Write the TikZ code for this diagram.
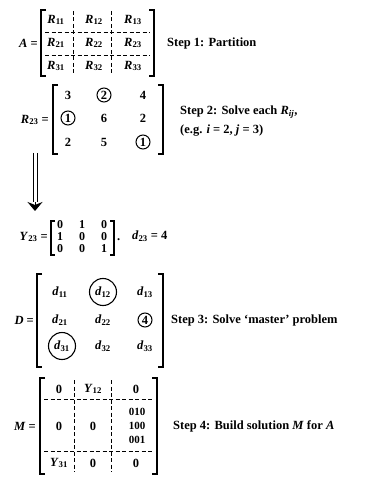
\documentclass[tikz,border=0pt]{standalone}
\usepackage{fontspec}
\setmainfont{Liberation Serif}
\usetikzlibrary{arrows.meta}
\newcommand\vb[2]{\textit{#1}\textsubscript{#2}}
\begin{document}
\begin{tikzpicture}[x=1pt,y=-1pt,
  every node/.style={inner sep=0pt,font=\fontsize{12.5}{15}\selectfont\bfseries},
  lbl/.style={anchor=west},
  brk/.style={line width=1.5pt},
  dsh/.style={line width=0.9pt,dash pattern=on 4pt off 2.5pt},
  circ/.style={circle,draw,line width=1pt,minimum size=14pt},
  bigcirc/.style={circle,draw,line width=1.1pt,minimum size=27pt},
  ysm/.style={font=\fontsize{12}{14}\selectfont\bfseries}]
\useasboundingbox (0,0) rectangle (380,478);
% ---------- A
\node[anchor=east] (Aeq) at (38,43) {\textit{A} =};
\draw[brk] (46,10) -- (41,10) -- (41,76) -- (46,76);
\draw[brk] (149,10) -- (154,10) -- (154,76) -- (149,76);
\node (r11) at (56,20) {\vb{R}{11}};
\node (r12) at (94,20) {\vb{R}{12}};
\node (r13) at (133,20) {\vb{R}{13}};
\node (r21) at (56,43) {\vb{R}{21}};
\node (r22) at (94,43) {\vb{R}{22}};
\node (r23) at (133,43) {\vb{R}{23}};
\node (r31) at (56,66) {\vb{R}{31}};
\node (r32) at (94,66) {\vb{R}{32}};
\node (r33) at (133,66) {\vb{R}{33}};
\draw[dsh] (45,32) -- (150,32);
\draw[dsh] (45,55) -- (150,55);
\draw[dsh] (73,11) -- (73,75);
\draw[dsh] (111,11) -- (111,75);
\node[lbl] (s1) at (167,43) {Step 1: Partition};
% ---------- R23
\node[anchor=east] (Req) at (49,120) {\vb{R}{23} =};
\draw[brk] (58,85) -- (53,85) -- (53,154) -- (58,154);
\draw[brk] (158,85) -- (163,85) -- (163,154) -- (158,154);
\node (a11) at (68,95) {3};
\node[circ] (a12) at (104,95) {2};
\node (a13) at (143,95) {4};
\node[circ] (a21) at (68,118) {1};
\node (a22) at (104,118) {6};
\node (a23) at (143,118) {2};
\node (a31) at (68,142) {2};
\node (a32) at (104,142) {5};
\node[circ] (a33) at (143,142) {1};
\node[lbl] (s2a) at (180,112) {Step 2: Solve each \vb{R}{\textit{ij}},};
\node[lbl] (s2b) at (180,131) {(e.g. \textit{i} = 2, \textit{j} = 3)};
% ---------- arrow
\coordinate (ar1) at (35,153);
\coordinate (ar2) at (35,202);
\coordinate (ar3) at (35,211);
\draw[line width=1pt] ([xshift=-2pt]ar1) -- ([xshift=-2pt]ar2);
\draw[line width=1pt] ([xshift=2pt]ar1) -- ([xshift=2pt]ar2);
\draw[line width=1pt,-{Stealth[length=9pt,width=15pt,inset=3pt]}] (ar2) -- (ar3);
% ---------- Y23
\node[anchor=east] (Yeq) at (48,237) {\vb{Y}{23} =};
\draw[brk] (55,221) -- (51,221) -- (51,255) -- (55,255);
\draw[brk] (110,221) -- (114,221) -- (114,255) -- (110,255);
\node[ysm] (y11) at (60,225) {0};
\node[ysm] (y12) at (82,225) {1};
\node[ysm] (y13) at (104,225) {0};
\node[ysm] (y21) at (60,237) {1};
\node[ysm] (y22) at (82,237) {0};
\node[ysm] (y23) at (104,237) {0};
\node[ysm] (y31) at (60,249) {0};
\node[ysm] (y32) at (82,249) {0};
\node[ysm] (y33) at (104,249) {1};
\node[lbl] (dot) at (117,240) {.};
\node[lbl] (d23) at (132,236) {\vb{d}{23} = 4};
% ---------- D
\node[anchor=east] (Deq) at (34,320) {\textit{D} =};
\draw[brk] (42,274) -- (37,274) -- (37,367) -- (42,367);
\draw[brk] (158,274) -- (163,274) -- (163,367) -- (158,367);
\node (d11) at (60,292) {\vb{d}{11}};
\node[bigcirc] (d12) at (103,292) {\vb{d}{12}};
\node (d13) at (145,292) {\vb{d}{13}};
\node (d21) at (60,320) {\vb{d}{21}};
\node (d22) at (103,320) {\vb{d}{22}};
\node[circ] (d23c) at (145,320) {4};
\node[bigcirc] (d31) at (62,346) {\vb{d}{31}};
\node (d32) at (103,346) {\vb{d}{32}};
\node (d33) at (145,346) {\vb{d}{33}};
\node[lbl] (s3) at (171,320) {Step 3: Solve `master' problem};
% ---------- M
\node[anchor=east] (Meq) at (36,426) {\textit{M} =};
\draw[brk] (45,378) -- (40,378) -- (40,474) -- (45,474);
\draw[brk] (152,378) -- (157,378) -- (157,474) -- (152,474);
\node (m11) at (59,389) {0};
\node (m12) at (93,389) {\vb{Y}{12}};
\node (m13) at (136,389) {0};
\node (m21) at (59,426) {0};
\node (m22) at (93,426) {0};
\node[font=\fontsize{11}{13}\selectfont\bfseries] (m23a) at (137,412) {010};
\node[font=\fontsize{11}{13}\selectfont\bfseries] (m23b) at (137,426) {100};
\node[font=\fontsize{11}{13}\selectfont\bfseries] (m23c) at (137,440) {001};
\node (m31) at (59,463) {\vb{Y}{31}};
\node (m32) at (93,463) {0};
\node (m33) at (136,463) {0};
\draw[dsh] (44,399) -- (153,399);
\draw[dsh] (44,451) -- (153,451);
\draw[dsh] (74,380) -- (74,472);
\draw[dsh] (111,380) -- (111,472);
\node[lbl] (s4) at (173,426) {Step 4: Build solution \textit{M} for \textit{A}};
\end{tikzpicture}
\end{document}
